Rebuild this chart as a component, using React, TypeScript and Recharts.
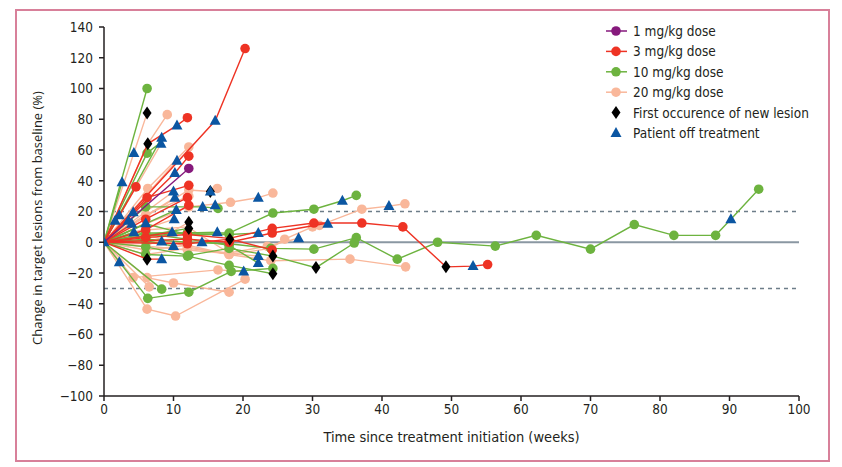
import React from "react";
import { ScatterChart, Scatter, XAxis, YAxis, ReferenceLine } from "recharts";

type Pt = [number, number];

const xTicks = [0, 10, 20, 30, 40, 50, 60, 70, 80, 90, 100];
const yTicks = [-100, -80, -60, -40, -20, 0, 20, 40, 60, 80, 100, 120, 140];

// one array per patient: [week, % change]
const dose1: Pt[][] = [[[0, 0], [12.2, 48]]];

const dose3: Pt[][] = [
  [[0, 0], [16, 79], [20.3, 126]],
  [[0, 0], [6.3, 64], [10.5, 76], [12, 81]],
  [[0, 0], [4.6, 36]],
  [[0, 0], [10.2, 45], [12.2, 56]],
  [[0, 0], [6.2, 29], [12.2, 37]],
  [[0, 0], [6, 15], [12, 29]],
  [[0, 0], [6, 3], [12, 5], [18, 2.5], [24.2, 9], [30.2, 12.5], [37.1, 12.5], [43, 10], [49.2, -16], [53.1, -15.5], [55.2, -14.5]],
  [[0, 0], [6.2, -11], [8.3, -11]],
  [[0, 0], [12, 2], [18, 0], [24.2, 6], [32.2, 12.5]],
  [[0, 0], [12, -1], [18.1, 2], [24.2, -5]],
  [[0, 0], [6, 8], [12.2, 24]],
  [[0, 0], [4, 12]],
  [[0, 0], [9.8, 6.5]],
];

const dose10: Pt[][] = [
  [[0, 0], [6.2, 100]],
  [[0, 0], [6.2, 58], [8.2, 65]],
  [[0, 0], [6, 23], [14.2, 23], [16.4, 22]],
  [[0, 0], [6, 4], [12, 6], [18, 6], [24.3, 19], [30.2, 21.5], [34.3, 27], [36.3, 30.5]],
  [[0, 0], [6, 2], [12, 0], [18, -1], [24, -4], [30.2, -4.5], [36.3, 3], [42.2, -11], [48, 0], [56.3, -2.5], [62.2, 4.5], [70, -4.5], [76.3, 11.5], [82, 4.5], [88, 4.5], [90.2, 15], [94.2, 34.5]],
  [[0, 0], [8.3, -30.5]],
  [[0, 0], [6.3, -36.5], [12.2, -32.5], [18.3, -19], [24.3, -17]],
  [[0, 0], [6, -3], [12.2, -8.5], [18, -4], [24.3, -9], [30.5, -16.5], [36, -0.5]],
  [[0, 0], [6, 12], [12, 5], [18, 5], [22.2, 6]],
  [[0, 0], [8.3, 68]],
  [[0, 0], [2.6, 39]],
  [[0, 0], [2.2, 17.5]],
  [[0, 0], [3.5, 14]],
  [[0, 0], [10.4, 21]],
  [[0, 0], [6, 1], [10, -2.5]],
  [[0, 0], [6, 6], [12, 6], [16.3, 6.5]],
  [[0, 0], [4.3, 6.5], [12, 2], [18, -2], [22.2, -13.5]],
  [[0, 0], [12.2, 9]],
  [[0, 0], [6, -8], [12, -9], [18, -15], [24.3, -20.5]],
];

const dose20: Pt[][] = [
  [[0, 0], [4.3, 58], [6.2, 84]],
  [[0, 0], [6.3, 64], [9.1, 83]],
  [[0, 0], [6.3, 35], [12.2, 62]],
  [[0, 0], [12.2, 34], [15.3, 33], [16.3, 35]],
  [[0, 0], [6, 12], [12.2, 23], [18.2, 26], [22.2, 29], [24.3, 32]],
  [[0, 0], [6, 5], [12, -3], [18, -8], [24, -4], [26, 2], [30, 10], [31, 11], [37.1, 21.5], [41, 23.5], [43.3, 25]],
  [[0, 0], [6, -5], [12, -2], [18, -8], [24, -12], [35.4, -11], [43.4, -16]],
  [[0, 0], [4.2, -23], [16.4, -18], [20.1, -19]],
  [[0, 0], [6.2, -23], [10, -26.5], [18, -32.5]],
  [[0, 0], [6.2, -43.5], [10.3, -48], [20.3, -24]],
  [[0, 0], [6.5, -29]],
  [[0, 0], [6, 18], [12.2, 30]],
  [[0, 0], [6, -8], [12, -4], [18, -7], [23.5, -2.6], [28, 2.6]],
  [[0, 0], [6, 8], [12, 10], [18, -7]],
  [[0, 0], [12, -5], [22.2, -9]],
  [[0, 0], [1.6, 14]],
  [[0, 0], [4.2, 19.5]],
  [[0, 0], [2.2, -13]],
  [[0, 0], [6, 12.4]],
  [[0, 0], [10.1, 15]],
  [[0, 0], [8.3, 0.5]],
  [[0, 0], [10.2, 29]],
  [[0, 0], [10.5, 53]],
  [[0, 0], [8.2, 64]],
  [[0, 0], [10, 33]],
  [[0, 0], [6, -3], [12.2, 13]],
  [[0, 0], [6, 0], [14.1, 0]],
];

const newLesion: Pt[] = [
  [6.2, 84], [6.3, 64], [6.2, -11], [12.2, 13], [12.2, 9], [15.3, 33], [18.1, 2],
  [24.3, -9], [24.3, -20.5], [30.5, -16.5], [49.2, -16],
];

const offTreatment: Pt[] = [
  [0, 0], [2.2, 17.5], [1.6, 14], [2.6, 39], [4.3, 58], [4.2, 19.5], [3.5, 14], [4, 12], [4.3, 6.5],
  [2.2, -13], [6, 12.4], [8.3, 68], [8.2, 64], [10.5, 76], [10.5, 53], [10.2, 45], [10, 33], [10.2, 29],
  [10.4, 21], [10.1, 15], [9.8, 6.5], [8.3, 0.5], [8.3, -11], [10, -2.5], [14.1, 0], [16, 79], [15.3, 33],
  [14.2, 23], [16, 24], [16.3, 6.5], [22.2, 29], [22.2, 6], [22.2, -9], [22.2, -13.5], [20.1, -19],
  [28, 2.6], [32.2, 12], [34.3, 27], [41, 23.5], [53.1, -15.5], [90.2, 15],
];

const PURPLE = "#86197c";
const RED = "#ee3324";
const GREEN = "#6db33f";
const SALMON = "#f9b79a";
const BLUE = "#0b56a2";

const groups = [
  { name: "20 mg/kg dose", color: SALMON, patients: dose20 },
  { name: "10 mg/kg dose", color: GREEN, patients: dose10 },
  { name: "3 mg/kg dose", color: RED, patients: dose3 },
  { name: "1 mg/kg dose", color: PURPLE, patients: dose1 },
];

const markers = [...newLesion, ...offTreatment];
const covered = (x: number, y: number) =>
  markers.some(([mx, my]) => Math.abs(mx - x) < 0.35 && Math.abs(my - y) < 1.2);

const toRows = (pts: Pt[]) => pts.map(([x, y]) => ({ x, y, hide: covered(x, y) }));

const fmt = (v: number) => (v < 0 ? `\u2212${Math.abs(v)}` : `${v}`);

const FONT = "'Liberation Sans Narrow', 'DejaVu Sans Condensed', Arial, sans-serif";
const tick = { fill: "#231f20", fontSize: 13.5, fontFamily: FONT };

const circle = (color: string) => (p: any) =>
  p.payload?.hide ? <g /> : <circle cx={p.cx} cy={p.cy} r={4.8} fill={color} />;
const diamond = (p: any) => (
  <polygon
    points={`${p.cx},${p.cy - 6.5} ${p.cx + 4.5},${p.cy} ${p.cx},${p.cy + 6.5} ${p.cx - 4.5},${p.cy}`}
    fill="#000"
  />
);
const triangle = (p: any) => (
  <polygon points={`${p.cx},${p.cy - 6} ${p.cx + 5.5},${p.cy + 4} ${p.cx - 5.5},${p.cy + 4}`} fill={BLUE} />
);

const legendItems = [
  { label: "1 mg/kg dose", color: PURPLE, kind: "line" },
  { label: "3 mg/kg dose", color: RED, kind: "line" },
  { label: "10 mg/kg dose", color: GREEN, kind: "line" },
  { label: "20 mg/kg dose", color: SALMON, kind: "line" },
  { label: "First occurence of new lesion", color: "#000", kind: "diamond" },
  { label: "Patient off treatment", color: BLUE, kind: "triangle" },
];

function LegendBox() {
  return (
    <svg width={240} height={130} style={{ position: "absolute", left: 600, top: 20 }}>
      {legendItems.map((it, i) => {
        const y = 11 + i * 20.4;
        return (
          <g key={it.label}>
            {it.kind === "line" && (
              <>
                <line x1={6} x2={27} y1={y} y2={y} stroke={it.color} strokeWidth={1.5} />
                <circle cx={16} cy={y} r={4.8} fill={it.color} />
              </>
            )}
            {it.kind === "diamond" && diamond({ cx: 16, cy: y })}
            {it.kind === "triangle" && triangle({ cx: 16, cy: y })}
            <text x={33} y={y + 5} fontSize={13.5} fontFamily={FONT} fill="#231f20">
              {it.label}
            </text>
          </g>
        );
      })}
    </svg>
  );
}

export default function App() {
  return (
    <div style={{ position: "absolute", left: 0, top: 0, width: 842, height: 467, background: "#fff" }}>
      <div
        style={{
          position: "absolute",
          left: 15,
          top: 9,
          width: 815,
          height: 453,
          border: "2px solid #d8809a",
          boxSizing: "border-box",
        }}
      />
      <ScatterChart width={842} height={467} margin={{ top: 27, right: 43, bottom: 41, left: 44 }}>
        <XAxis
          type="number"
          dataKey="x"
          domain={[0, 100]}
          ticks={xTicks}
          allowDataOverflow
          tick={tick}
          tickSize={5}
          tickMargin={3}
          height={30}
          stroke="#231f20"
          strokeWidth={1.5}
          label={{
            value: "Time since treatment initiation (weeks)",
            position: "bottom",
            offset: 6,
            style: { fill: "#231f20", fontSize: 14.5, fontFamily: FONT },
          }}
        />
        <YAxis
          type="number"
          dataKey="y"
          domain={[-100, 140]}
          ticks={yTicks}
          allowDataOverflow
          tick={tick}
          tickFormatter={fmt}
          tickSize={5}
          tickMargin={6}
          width={60}
          stroke="#231f20"
          strokeWidth={1.5}
          label={{
            content: () => (
              <text
                x={42}
                y={218}
                transform="rotate(-90 42 218)"
                textAnchor="middle"
                fontSize={13}
                fontFamily="'Open Sans', sans-serif"
                fill="#231f20"
              >
                Change in target lesions from baseline (%)
              </text>
            ),
          }}
        />
        <ReferenceLine y={20} stroke="#6d7d89" strokeWidth={1.5} strokeDasharray="4 4" />
        <ReferenceLine y={-30} stroke="#6d7d89" strokeWidth={1.5} strokeDasharray="4 4" />
        <ReferenceLine y={0} stroke="#8a97a2" strokeWidth={2} />
        {groups.flatMap((g) =>
          g.patients.map((pts, i) => (
            <Scatter
              key={`${g.name}-${i}`}
              data={toRows(pts)}
              fill={g.color}
              line={{ stroke: g.color, strokeWidth: 1.4 }}
              lineType="joint"
              shape={circle(g.color)}
              isAnimationActive={false}
            />
          ))
        )}
        <Scatter data={toRows(newLesion)} shape={diamond} isAnimationActive={false} />
        <Scatter data={toRows(offTreatment)} shape={triangle} isAnimationActive={false} />
      </ScatterChart>
      <LegendBox />
    </div>
  );
}
